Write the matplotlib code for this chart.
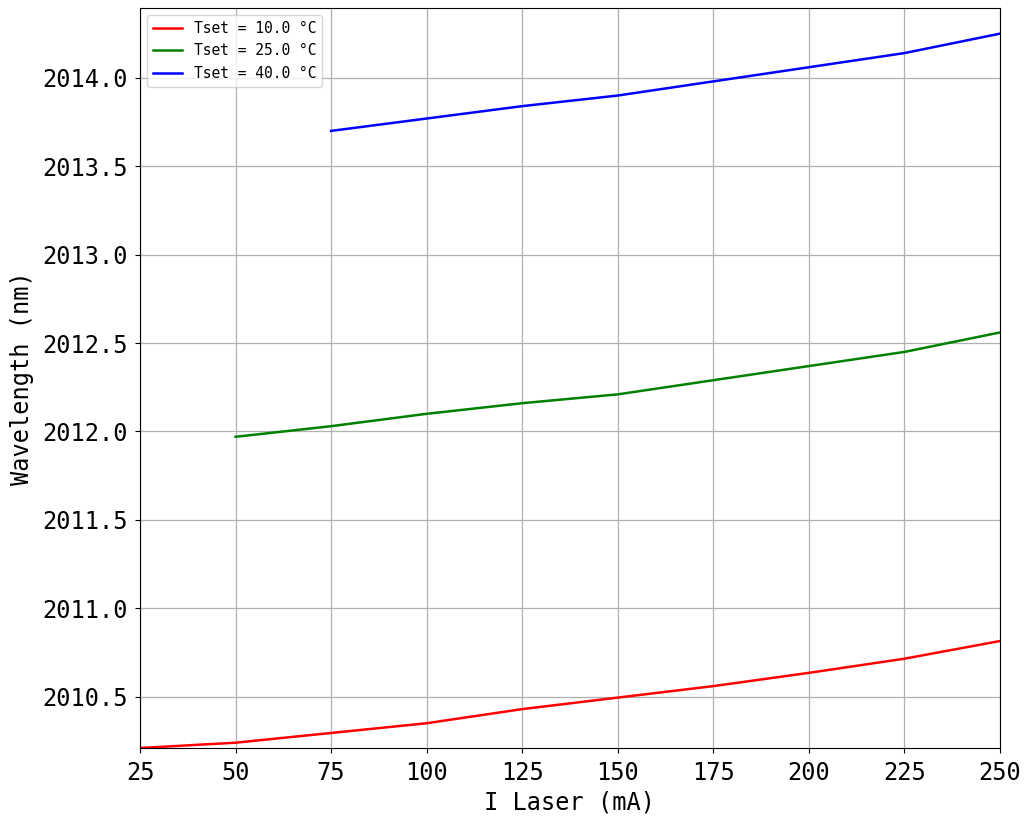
import matplotlib
matplotlib.use("Agg")
import matplotlib.pyplot as plt

plt.rcParams['font.family'] = ['DejaVu Sans Mono', 'Noto Sans CJK SC', 'DejaVu Sans']
plt.rcParams['axes.unicode_minus'] = False

current = [25, 50, 75, 100, 125, 150, 175, 200, 225, 250]
wl_10 = [2010.21, 2010.24, 2010.295, 2010.35, 2010.43, 2010.495, 2010.56, 2010.635, 2010.715, 2010.815]
current_25 = [50, 75, 100, 125, 150, 175, 200, 225, 250]
wl_25 = [2011.97, 2012.03, 2012.10, 2012.16, 2012.21, 2012.29, 2012.37, 2012.45, 2012.56]
current_40 = [75, 100, 125, 150, 175, 200, 225, 250]
wl_40 = [2013.70, 2013.77, 2013.84, 2013.90, 2013.98, 2014.06, 2014.14, 2014.25]
labels = ['Tset = 10.0 °C', 'Tset = 25.0 °C', 'Tset = 40.0 °C']

fig = plt.figure(figsize=(10.24, 8.19), dpi=100)
ax = fig.add_axes([140/1024, 1-748/819, 860/1024, 740/819])
ax.plot(current, wl_10, color='red', lw=1.8, label=labels[0])
ax.plot(current_25, wl_25, color='green', lw=1.8, label=labels[1])
ax.plot(current_40, wl_40, color='blue', lw=1.8, label=labels[2])
ax.set_xlim(25, 250)
ax.set_ylim(2010.21, 2014.395)
ax.set_xticks([25, 50, 75, 100, 125, 150, 175, 200, 225, 250])
ax.set_yticks([2010.5, 2011.0, 2011.5, 2012.0, 2012.5, 2013.0, 2013.5, 2014.0])
ax.yaxis.set_major_formatter(matplotlib.ticker.FormatStrFormatter('%.1f'))
ax.tick_params(axis='x', labelsize=17, pad=6)
ax.tick_params(axis='y', labelsize=17, pad=5)
ax.grid(True, color='#b0b0b0', lw=0.9)
ax.set_xlabel('I Laser (mA)', fontsize=17, labelpad=4)
ax.set_ylabel('Wavelength (nm)', fontsize=17, labelpad=6)
ax.legend(loc='upper left', fontsize=10.5)
fig.savefig('out.png', dpi=100)
